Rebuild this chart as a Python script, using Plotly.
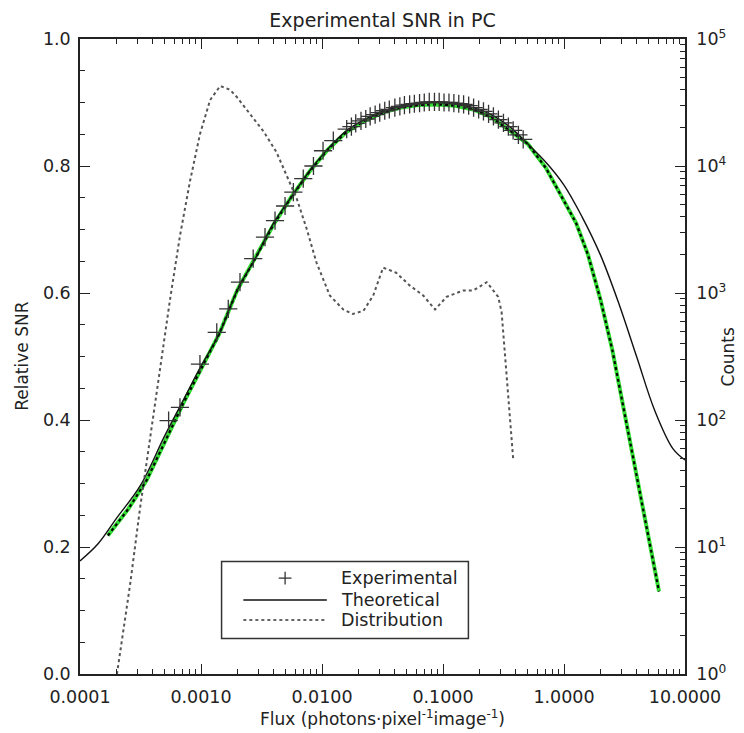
import plotly.graph_objects as go

# ---------------- data ----------------
exp_flux = [5.4e-4, 6.7e-4, 9.8e-4, 1.35e-3, 1.68e-3, 2.1e-3, 2.7e-3, 3.38e-3, 4.09e-3,
            4.95e-3, 5.8e-3, 7.0e-3, 8.5e-3, 0.0102, 0.0124, 0.016, 0.0175, 0.019, 0.021,
            0.023, 0.025, 0.0275, 0.030, 0.033, 0.036, 0.040, 0.044, 0.048, 0.053, 0.058,
            0.064, 0.070, 0.077, 0.085, 0.093, 0.102, 0.112, 0.123, 0.135, 0.148, 0.163,
            0.179, 0.197, 0.216, 0.238, 0.261, 0.287, 0.316, 0.347, 0.38, 0.42, 0.46]
exp_snr = [0.399, 0.42, 0.488, 0.538, 0.575, 0.617, 0.654, 0.688, 0.714,
           0.737, 0.759, 0.78, 0.80, 0.824, 0.84, 0.858, 0.862, 0.867, 0.871,
           0.874, 0.878, 0.881, 0.884, 0.887, 0.889, 0.892, 0.894, 0.896, 0.897, 0.898,
           0.899, 0.900, 0.901, 0.901, 0.901, 0.900, 0.900, 0.899, 0.898, 0.897, 0.895,
           0.892, 0.889, 0.886, 0.882, 0.878, 0.873, 0.868, 0.862, 0.856, 0.849, 0.842]

theo_flux = [1.0e-4, 1.41e-4, 2.0e-4, 3.16e-4, 5.01e-4, 7.08e-4, 1.0e-3, 1.41e-3, 2.0e-3,
             2.82e-3, 3.98e-3, 5.62e-3, 7.94e-3, 0.0112, 0.0158, 0.0224, 0.0316, 0.0447,
             0.0631, 0.0891, 0.126, 0.178, 0.251, 0.355, 0.501, 0.708, 1.0, 1.41, 2.0,
             2.82, 3.98, 5.62, 7.94, 10.0]
theo_snr = [0.178, 0.205, 0.245, 0.297, 0.375, 0.43, 0.485, 0.535, 0.605,
            0.655, 0.71, 0.752, 0.793, 0.827, 0.855, 0.873, 0.886, 0.894,
            0.899, 0.900, 0.898, 0.892, 0.881, 0.862, 0.835, 0.806, 0.77, 0.72, 0.66,
            0.585, 0.50, 0.415, 0.355, 0.337]

sim_flux = [1.70e-4, 2.51e-4, 3.55e-4, 5.01e-4, 7.08e-4, 1.0e-3, 1.41e-3, 2.0e-3, 2.82e-3,
            3.98e-3, 5.62e-3, 7.94e-3, 0.0112, 0.0158, 0.0224, 0.0316, 0.0447, 0.0631,
            0.0891, 0.126, 0.178, 0.251, 0.355, 0.501, 0.708, 1.0, 1.26, 1.58, 2.0, 2.51,
            3.16, 3.98, 5.01, 6.1]
sim_snr = [0.218, 0.26, 0.305, 0.365, 0.425, 0.48, 0.535, 0.605, 0.655,
           0.708, 0.752, 0.792, 0.826, 0.853, 0.871, 0.884, 0.892, 0.896,
           0.897, 0.895, 0.889, 0.877, 0.856, 0.835, 0.797, 0.745, 0.71, 0.66, 0.59, 0.51,
           0.41, 0.31, 0.215, 0.13]

dist_flux = [2.02e-4, 2.59e-4, 3.13e-4, 3.79e-4, 4.58e-4, 5.55e-4, 6.70e-4, 8.11e-4, 9.8e-4,
             1.19e-3, 1.44e-3, 1.74e-3, 1.99e-3, 2.5e-3, 3.3e-3, 4.2e-3, 5.1e-3, 6.2e-3,
             7.5e-3, 9.0e-3, 0.0116, 0.015, 0.018, 0.022, 0.0265, 0.032, 0.041, 0.053,
             0.0687, 0.086, 0.107, 0.147, 0.178, 0.23, 0.286, 0.305, 0.32, 0.336, 0.36, 0.381]
dist_counts = [1.0, 5.0, 20.0, 71.0, 251.0, 891.0, 2818.0, 7586.0, 17783.0,
               33113.0, 42658.0, 39811.0, 34674.0, 26303.0, 18621.0, 12882.0, 8318.0, 5495.0,
               3162.0, 1738.0, 955.0, 741.0, 684.0, 724.0, 955.0, 1585.0, 1445.0, 1148.0,
               955.0, 741.0, 933.0, 1047.0, 1047.0, 1216.0, 933.0, 708.0, 398.0, 224.0, 100.0, 48.0]

x_tickvals = [1e-4, 1e-3, 1e-2, 1e-1, 1, 10]
x_ticktext = ["0.0001", "0.0010", "0.0100", "0.1000", "1.0000", "10.0000"]
y2_tickvals = [1, 10, 100, 1000, 10000, 100000]
y2_ticktext = ["10<sup>0</sup>", "10<sup>1</sup>", "10<sup>2</sup>", "10<sup>3</sup>",
               "10<sup>4</sup>", "10<sup>5</sup>"]

legend_labels = ["Experimental", "Theoretical", "Distribution"]

FONT = "DejaVu Sans"
INK = "#222222"
TICK_SIZE = 17.5

fig = go.Figure()

fig.add_trace(go.Scatter(x=dist_flux, y=dist_counts, yaxis="y2", mode="lines",
                         line=dict(color="#555555", width=2, dash="dot"),
                         name="Distribution", showlegend=False))
fig.add_trace(go.Scatter(x=sim_flux, y=sim_snr, mode="lines",
                         line=dict(color="#33dd33", width=4),
                         showlegend=False, hoverinfo="skip"))
fig.add_trace(go.Scatter(x=sim_flux, y=sim_snr, mode="lines",
                         line=dict(color="#000000", width=2.2, dash="dot"),
                         showlegend=False, hoverinfo="skip"))
fig.add_trace(go.Scatter(x=theo_flux, y=theo_snr, mode="lines", line_shape="spline",
                         line=dict(color="#111111", width=1.4),
                         name="Theoretical", showlegend=False))
fig.add_trace(go.Scatter(x=exp_flux, y=exp_snr, mode="markers",
                         marker=dict(symbol="cross-thin", size=13,
                                     line=dict(color="#333333", width=1.3)),
                         name="Experimental", showlegend=False))

axis_common = dict(showgrid=False, zeroline=False, showline=True, linecolor="#222",
                   linewidth=1.5, ticks="inside", tickcolor="#222",
                   tickfont=dict(family=FONT, size=TICK_SIZE, color=INK))

# the page body adds an 8px offset; figure is sized so the plot box lands at
# x 80..685, y 39..674 of the 744x733 window
fig.update_layout(
    width=736, height=725,
    margin=dict(l=72, r=59, t=31, b=59),
    paper_bgcolor="white", plot_bgcolor="white",
    showlegend=False,
    title=dict(text="Experimental SNR in PC", x=0.5, xref="paper", xanchor="center",
               y=0.983, yref="container", yanchor="middle",
               font=dict(family=FONT, size=19, color=INK)),
    xaxis=dict(type="log", range=[-4, 1], mirror="ticks", tickvals=x_tickvals,
               ticktext=x_ticktext, ticklen=10,
               minor=dict(ticks="inside", ticklen=5, dtick="D1", tickcolor="#222"),
               ticklabelstandoff=6, **axis_common),
    yaxis=dict(range=[0, 1], dtick=0.2, tickformat=".1f", ticklen=10,
               minor=dict(ticks="inside", ticklen=5, dtick=0.05, tickcolor="#222"),
               ticklabelstandoff=4, **axis_common),
    yaxis2=dict(type="log", range=[0, 5], overlaying="y", side="right",
                tickvals=y2_tickvals, ticktext=y2_ticktext, ticklen=10,
                minor=dict(ticks="inside", ticklen=5, dtick="D1", tickcolor="#222"),
                ticklabelstandoff=6, **axis_common),
)

# axis titles
fig.add_annotation(text="Flux (photons·pixel<sup>-1</sup>image<sup>-1</sup>)",
                   xref="paper", yref="paper", x=0.5, y=-0.069, yanchor="middle",
                   showarrow=False, font=dict(family=FONT, size=17, color=INK))
fig.add_annotation(text="Relative SNR", textangle=-90, xref="paper", yref="paper",
                   x=-0.097, y=0.5, xanchor="center", showarrow=False,
                   font=dict(family=FONT, size=17, color=INK))
fig.add_annotation(text="Counts", textangle=-90, xref="paper", yref="paper",
                   x=1.071, y=0.5, xanchor="center", showarrow=False,
                   font=dict(family=FONT, size=17, color=INK))

# hand-drawn legend box (IDL style)
bx0, bx1, by0, by1 = 0.234, 0.642, 0.056, 0.177
fig.add_shape(type="rect", xref="paper", yref="paper", x0=bx0, x1=bx1, y0=by0, y1=by1,
              line=dict(color="#333", width=1.5), fillcolor="white", layer="above")
rows = [0.151, 0.1165, 0.085]
sx0, sx1, tx = 0.270, 0.408, 0.428
cx, cw, ch = 0.339, 0.0105, 0.0102
fig.add_shape(type="line", xref="paper", yref="paper", x0=cx - cw, x1=cx + cw,
              y0=rows[0], y1=rows[0], line=dict(color="#333", width=1.3), layer="above")
fig.add_shape(type="line", xref="paper", yref="paper", x0=cx, x1=cx,
              y0=rows[0] - ch, y1=rows[0] + ch, line=dict(color="#333", width=1.3), layer="above")
fig.add_shape(type="line", xref="paper", yref="paper", x0=sx0, x1=sx1,
              y0=rows[1], y1=rows[1], line=dict(color="#111", width=1.4), layer="above")
fig.add_shape(type="line", xref="paper", yref="paper", x0=sx0, x1=sx1,
              y0=rows[2], y1=rows[2], line=dict(color="#666", width=2, dash="dot"), layer="above")
for lab, ry in zip(legend_labels, rows):
    fig.add_annotation(text=lab, xref="paper", yref="paper", x=tx, y=ry,
                       xanchor="left", yanchor="middle", showarrow=False,
                       font=dict(family=FONT, size=17.5, color=INK))

fig.write_html("out.html")
